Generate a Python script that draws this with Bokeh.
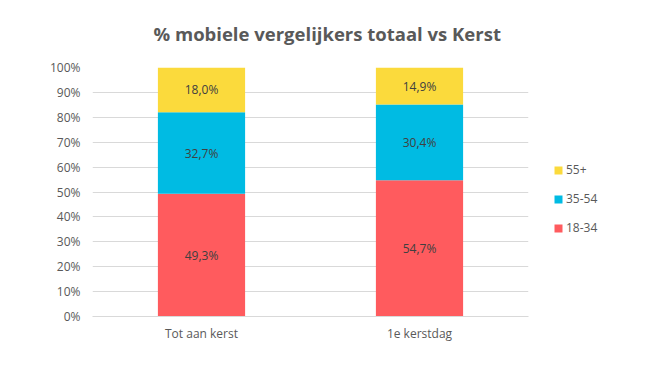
from bokeh.plotting import figure
from bokeh.models import ColumnDataSource, Legend, LegendItem, NumeralTickFormatter, FixedTicker, Range1d, Title
from bokeh.core.properties import value
from bokeh.embed import file_html
from bokeh.resources import INLINE

categories = ["Tot aan kerst", "1e kerstdag"]
groups = ["18-34", "35-54", "55+"]
v_18_34 = [49.3, 54.7]
v_35_54 = [32.7, 30.4]
v_55 = [18.0, 14.9]
colors = ["#FF5B5E", "#00BBE3", "#FBDA3C"]
title_text = "% mobiele vergelijkers totaal vs Kerst"

data = {"cat": categories,
        "18-34": [v / 100 for v in v_18_34],
        "35-54": [v / 100 for v in v_35_54],
        "55+": [v / 100 for v in v_55]}
src = ColumnDataSource(data)

p = figure(x_range=categories, frame_width=436, frame_height=249, output_backend="svg",
           toolbar_location=None, title=None,
           min_border_left=92, min_border_right=100, min_border_top=67, min_border_bottom=34)
p.y_range = Range1d(0, 1)

renderers = p.vbar_stack(groups, x="cat", width=0.4, color=colors, source=src, line_color=None)

# labels
lx, ly, lt = [], [], []
for i, c in enumerate(categories):
    base = 0.0
    for vals in (v_18_34, v_35_54, v_55):
        v = vals[i]
        lx.append(c)
        ly.append((base + v / 2) / 100)
        lt.append(("%.1f" % v).replace(".", ",") + "%")
        base += v
lsrc = ColumnDataSource(dict(x=lx, y=ly, t=lt))
p.text(x="x", y="y", text="t", source=lsrc, text_align="center", text_baseline="middle",
       text_font=value("Open Sans"), text_font_size="12px", text_color="#404040")

items = [LegendItem(label=g, renderers=[r]) for g, r in zip(groups, renderers)][::-1]
legend = Legend(items=items, location=(25, 80), border_line_alpha=0, background_fill_alpha=0,
                label_text_font="Open Sans", label_text_font_size="12px", label_text_color="#595959",
                glyph_width=10, glyph_height=10, label_height=16, spacing=12, label_standoff=3,
                padding=0, margin=0)
p.add_layout(legend, "right")

spacer = Title(text=" ", text_font_size="13px", standoff=0)
p.add_layout(spacer, "above")
main_title = Title(text=title_text, text_font="Open Sans", text_font_size="18.5px",
                   text_font_style="bold", text_color="#595959", align="left", offset=61)
p.add_layout(main_title, "above")

p.yaxis.ticker = FixedTicker(ticks=[i / 10 for i in range(11)])
p.yaxis.formatter = NumeralTickFormatter(format="0%")
p.yaxis.axis_line_color = None
p.yaxis.major_tick_line_color = None
p.yaxis.minor_tick_line_color = None
p.yaxis.major_label_text_font = "Open Sans"
p.yaxis.major_label_text_font_size = "12px"
p.yaxis.major_label_text_color = "#595959"
p.yaxis.major_label_standoff = 6

p.xaxis.axis_line_color = "#D9D9D9"
p.xaxis.major_tick_line_color = None
p.xaxis.minor_tick_line_color = None
p.xaxis.major_label_text_font = "Open Sans"
p.xaxis.major_label_text_font_size = "12px"
p.xaxis.major_label_text_color = "#595959"
p.xaxis.major_label_standoff = 2

p.xgrid.grid_line_color = None
p.ygrid.grid_line_color = "#D9D9D9"
p.outline_line_color = None
p.x_range.range_padding = 0

open("out.html", "w").write(file_html(p, INLINE))
